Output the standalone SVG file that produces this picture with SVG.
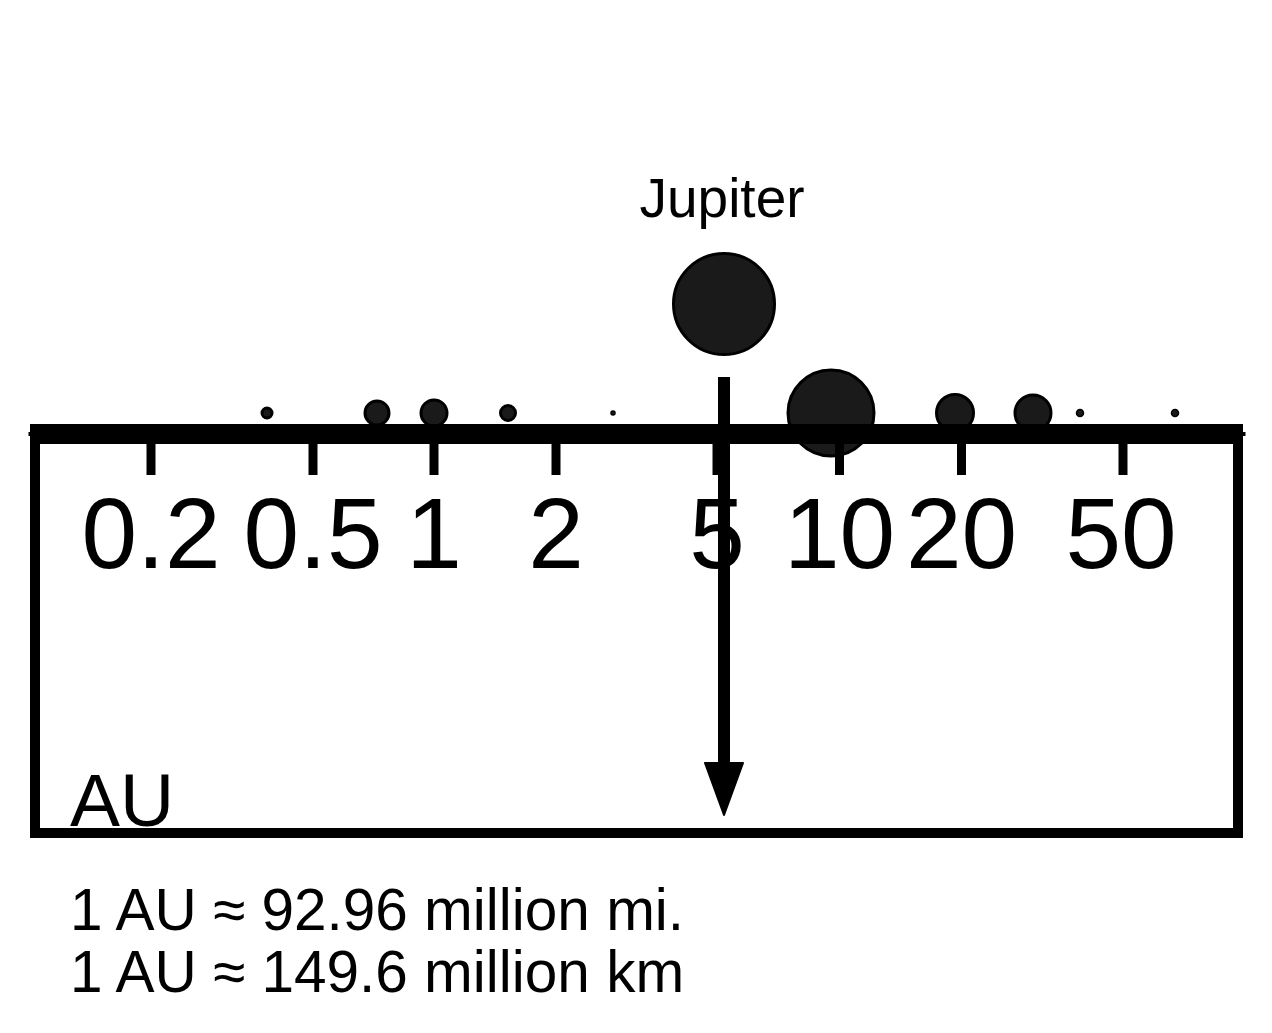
<svg xmlns="http://www.w3.org/2000/svg" width="1272" height="1033" viewBox="0 0 1272 1033">
  <style>
    .planet { fill: #1a1a1a; stroke: #000; stroke-width: 3; }
    .tiny { fill: #1a1a1a; stroke: #000; stroke-width: 1.5; }
    .tick { stroke: #000; stroke-width: 9; }
    .lbl { font-family: "Liberation Sans", Arial, sans-serif; font-size: 100px; fill: #000; text-anchor: middle; }
    .txt { font-family: "Liberation Sans", Arial, sans-serif; fill: #000; }
  </style>
  <rect width="1272" height="1033" fill="#fff"/>
  <g id="planets">
    <g id="mercury"><circle class="planet" cx="267" cy="413" r="5"/></g>
    <g id="venus"><circle class="planet" cx="377" cy="413" r="12"/></g>
    <g id="earth"><circle class="planet" cx="434" cy="413" r="13"/></g>
    <g id="mars"><circle class="planet" cx="508" cy="413" r="7.5"/></g>
    <g id="ceres"><circle class="tiny" cx="613" cy="413" r="2"/></g>
    <g id="saturn"><circle class="planet" cx="831" cy="413" r="43"/></g>
    <g id="uranus"><circle class="planet" cx="955" cy="413" r="18.5"/></g>
    <g id="neptune"><circle class="planet" cx="1033" cy="413" r="18"/></g>
    <g id="pluto"><circle class="tiny" cx="1080" cy="413" r="3.5"/></g>
    <g id="eris"><circle class="tiny" cx="1175" cy="413" r="3.5"/></g>
  </g>
  <g id="jupiter">
    <circle class="planet" cx="724" cy="304" r="50.5"/>
    <text class="txt" x="722" y="217" font-size="55" text-anchor="middle">Jupiter</text>
  </g>
  <g id="scale-box">
    <rect x="35" y="434" width="1203" height="399" fill="none" stroke="#000" stroke-width="10"/>
    <line x1="28.5" y1="434" x2="1245.5" y2="434" stroke="#000" stroke-width="4"/>
    <line x1="30" y1="434" x2="1243" y2="434" stroke="#000" stroke-width="20"/>
    <text class="txt" x="70" y="826" font-size="75">AU</text>
  </g>
  <g id="ticks">
    <line class="tick" x1="151" y1="440" x2="151" y2="475"/>
    <line class="tick" x1="313" y1="440" x2="313" y2="475"/>
    <line class="tick" x1="434" y1="440" x2="434" y2="475"/>
    <line class="tick" x1="556" y1="440" x2="556" y2="475"/>
    <line class="tick" x1="717" y1="440" x2="717" y2="475"/>
    <line class="tick" x1="839.5" y1="440" x2="839.5" y2="475"/>
    <line class="tick" x1="961.5" y1="440" x2="961.5" y2="475"/>
    <line class="tick" x1="1123" y1="440" x2="1123" y2="475"/>
  </g>
  <g id="labels">
    <text class="lbl" x="151" y="568">0.2</text>
    <text class="lbl" x="313" y="568">0.5</text>
    <text class="lbl" x="434" y="568">1</text>
    <text class="lbl" x="556" y="568">2</text>
    <text class="lbl" x="717" y="568">5</text>
    <text class="lbl" x="839.5" y="568">10</text>
    <text class="lbl" x="961.5" y="568">20</text>
    <text class="lbl" x="1121" y="568">50</text>
  </g>
  <g id="connectors">
    <line x1="724" y1="377" x2="724" y2="766" stroke="#000" stroke-width="12"/>
    <polygon points="705,763 743,763 724,815" fill="#000" stroke="#000" stroke-width="2" stroke-linejoin="round"/>
  </g>
  <g id="note">
    <text class="txt" x="70" y="930" font-size="58.5">1 AU ≈ 92.96 million mi.</text>
    <text class="txt" x="70" y="992" font-size="58.5">1 AU ≈ 149.6 million km</text>
  </g>
</svg>
